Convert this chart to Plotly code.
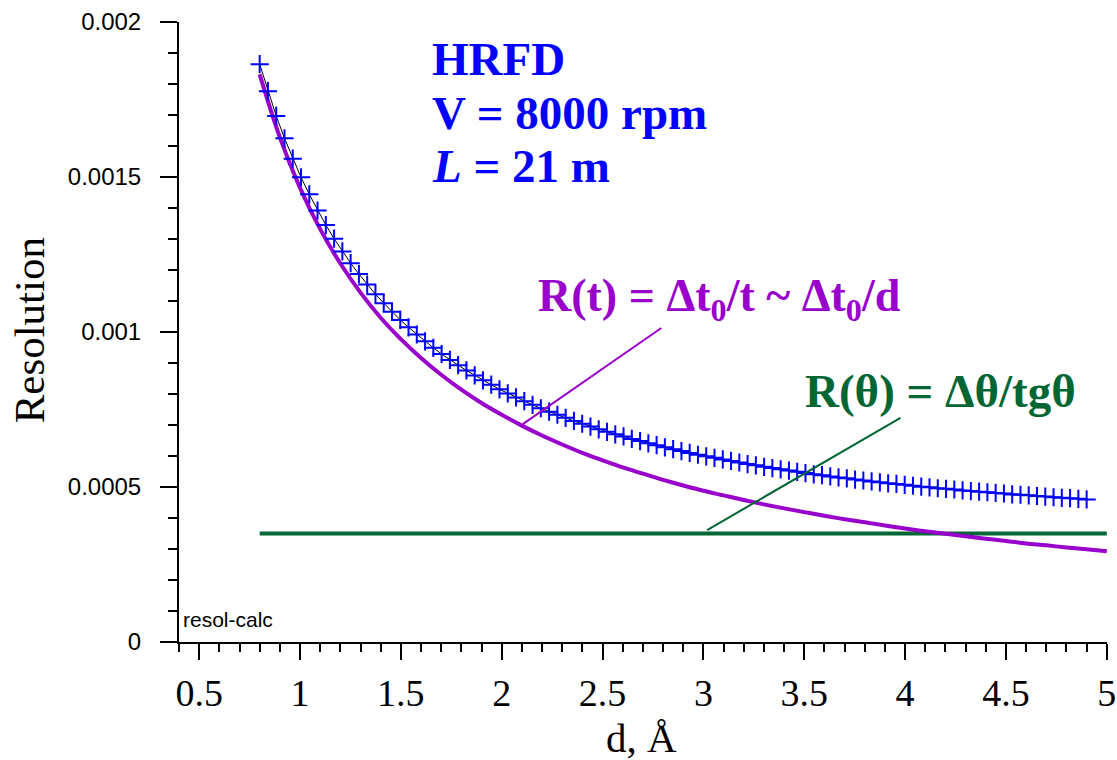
import plotly.graph_objects as go

# Calculated HRFD resolution vs d-spacing (V = 8000 rpm, L = 21 m)
d_total = [0.8, 0.841, 0.882, 0.923, 0.964, 1.005, 1.046, 1.087, 1.128, 1.169,
           1.21, 1.251, 1.292, 1.333, 1.374, 1.415, 1.456, 1.497, 1.538, 1.579,
           1.62, 1.661, 1.702, 1.743, 1.784, 1.825, 1.866, 1.907, 1.948, 1.989,
           2.03, 2.071, 2.112, 2.153, 2.194, 2.235, 2.276, 2.317, 2.358, 2.399,
           2.44, 2.481, 2.522, 2.563, 2.604, 2.645, 2.686, 2.727, 2.768, 2.809,
           2.85, 2.891, 2.932, 2.973, 3.014, 3.055, 3.096, 3.137, 3.178, 3.219,
           3.26, 3.301, 3.342, 3.383, 3.424, 3.465, 3.506, 3.547, 3.588, 3.629,
           3.67, 3.711, 3.752, 3.793, 3.834, 3.875, 3.916, 3.957, 3.998, 4.039,
           4.08, 4.121, 4.162, 4.203, 4.244, 4.285, 4.326, 4.367, 4.408, 4.449,
           4.49, 4.531, 4.572, 4.613, 4.654, 4.695, 4.736, 4.777, 4.818, 4.859,
           4.9]
r_total = [18.64, 17.77, 16.97, 16.25, 15.59, 14.99, 14.44, 13.92, 13.45, 13.01,
           12.60, 12.22, 11.87, 11.53, 11.22, 10.93, 10.65, 10.39, 10.15, 9.92,
           9.70, 9.49, 9.29, 9.10, 8.93, 8.76, 8.60, 8.44, 8.30, 8.15,
           8.02, 7.89, 7.77, 7.65, 7.54, 7.43, 7.33, 7.23, 7.13, 7.04,
           6.95, 6.86, 6.78, 6.70, 6.63, 6.55, 6.48, 6.41, 6.35, 6.28,
           6.22, 6.16, 6.10, 6.04, 5.99, 5.94, 5.89, 5.84, 5.79, 5.74,
           5.70, 5.65, 5.61, 5.57, 5.53, 5.49, 5.45, 5.41, 5.38, 5.34,
           5.31, 5.28, 5.24, 5.21, 5.18, 5.15, 5.12, 5.10, 5.07, 5.04,
           5.01, 4.99, 4.96, 4.94, 4.92, 4.89, 4.87, 4.85, 4.83, 4.81,
           4.79, 4.76, 4.75, 4.73, 4.71, 4.69, 4.67, 4.65, 4.64, 4.62,
           4.60]  # units of 1e-4

# Time-of-flight contribution R(t)
d_time = [0.8, 0.9, 1.0, 1.1, 1.2, 1.3, 1.4, 1.5, 1.6, 1.7, 1.8, 1.9, 2.0,
          2.1, 2.2, 2.3, 2.4, 2.5, 2.6, 2.7, 2.8, 2.9, 3.0, 3.1, 3.2, 3.3,
          3.4, 3.5, 3.6, 3.7, 3.8, 3.9, 4.0, 4.1, 4.2, 4.3, 4.4, 4.5, 4.6,
          4.7, 4.8, 4.9, 5.0]
r_time = [18.31, 16.28, 14.65, 13.32, 12.21, 11.27, 10.46, 9.77, 9.16, 8.62,
          8.14, 7.71, 7.33, 6.98, 6.66, 6.37, 6.10, 5.86, 5.63, 5.43, 5.23,
          5.05, 4.88, 4.73, 4.58, 4.44, 4.31, 4.19, 4.07, 3.96, 3.86, 3.76,
          3.66, 3.57, 3.49, 3.41, 3.33, 3.26, 3.18, 3.12, 3.05, 2.99, 2.93]  # 1e-4

# Angular contribution R(theta), constant over d
d_angle = [0.8, 5.0]
r_angle = [3.5, 3.5]  # units of 1e-4

x_tick_vals = [0.5, 1, 1.5, 2, 2.5, 3, 3.5, 4, 4.5, 5]
x_tick_text = ["0.5", "1", "1.5", "2", "2.5", "3", "3.5", "4", "4.5", "5"]
y_tick_vals = [0, 0.0005, 0.001, 0.0015, 0.002]
y_tick_text = ["0", "0.0005", "0.001", "0.0015", "0.002"]

SCALE = 1e-4
PURPLE = "rgb(153,0,204)"
GREEN = "rgb(0,102,51)"
BLUE = "rgb(0,0,255)"
SERIF = "Liberation Serif, Times New Roman, serif"
SANS = "Liberation Sans, Arial, sans-serif"

fig = go.Figure()

fig.add_trace(go.Scatter(
    x=d_angle, y=[v * SCALE for v in r_angle], mode="lines",
    line=dict(color=GREEN, width=4), showlegend=False))

fig.add_trace(go.Scatter(
    x=d_time, y=[v * SCALE for v in r_time], mode="lines",
    line=dict(color=PURPLE, width=4, shape="spline"), showlegend=False))

fig.add_trace(go.Scatter(
    x=d_total, y=[v * SCALE for v in r_total], mode="lines",
    line=dict(color="black", width=1), showlegend=False))

fig.add_trace(go.Scatter(
    x=d_total, y=[v * SCALE for v in r_total], mode="markers",
    marker=dict(symbol="cross-thin", size=13, color=BLUE,
                line=dict(color=BLUE, width=2)),
    showlegend=False))

# leader lines from the labels to the curves
fig.add_shape(type="line", x0=2.1045, y0=0.000703, x1=2.7913, y1=0.001013,
              line=dict(color=PURPLE, width=2))
fig.add_shape(type="line", x0=3.0186, y0=0.000361, x1=3.977, y1=0.000723,
              line=dict(color=GREEN, width=2))

ann = []
hrfd = ["<b>HRFD</b>", "<b>V = 8000 rpm</b>", "<b><i>L</i> = 21 m</b>"]
for txt, yy in zip(hrfd, [0.0018806, 0.0017065, 0.0015355]):
    ann.append(dict(x=1.645, y=yy, xref="x", yref="y", text=txt, showarrow=False,
                    xanchor="left", yanchor="middle",
                    font=dict(family=SERIF, size=47, color=BLUE)))
ann.append(dict(x=2.168, y=0.0011065, xref="x", yref="y",
                text="<b>R(t) = \u0394t<sub>0</sub>/t ~ \u0394t<sub>0</sub>/d</b>",
                showarrow=False, xanchor="left", yanchor="middle",
                font=dict(family=SERIF, size=46, color=PURPLE)))
ann.append(dict(x=3.495, y=0.00080968, xref="x", yref="y",
                text="<b>R(\u03b8) = \u0394\u03b8/tg\u03b8</b>",
                showarrow=False, xanchor="left", yanchor="middle",
                font=dict(family=SERIF, size=47, color=GREEN)))
ann.append(dict(x=0.0022, y=0.036, xref="paper", yref="paper",
                text="resol-calc", showarrow=False, xanchor="left",
                yanchor="middle", font=dict(family=SANS, size=21, color="black")))
ann.append(dict(x=-0.1613, y=0.5032, xref="paper", yref="paper",
                text="Resolution", textangle=-90, showarrow=False,
                xanchor="center", yanchor="middle",
                font=dict(family=SERIF, size=43, color="black")))
ann.append(dict(x=0.4989, y=-0.1548, xref="paper", yref="paper",
                text="d, \u00c5", showarrow=False,
                xanchor="center", yanchor="middle",
                font=dict(family=SERIF, size=41, color="black")))

fig.update_layout(
    width=1117, height=760,
    margin=dict(l=179, r=10, t=22, b=118, autoexpand=False),
    paper_bgcolor="white", plot_bgcolor="white",
    annotations=ann,
    xaxis=dict(
        range=[0.4, 5.001], tickmode="array", tickvals=x_tick_vals, ticktext=x_tick_text,
        ticks="outside", ticklen=16, tickwidth=2, tickcolor="black",
        showline=True, linewidth=2, linecolor="black", automargin=False,
        showgrid=False, zeroline=False, ticklabelstandoff=0,
        ticklabeloverflow="allow",
        tickfont=dict(family=SERIF, size=38, color="black"),
        minor=dict(tickmode="linear", tick0=0.4, dtick=0.1, ticks="outside",
                   ticklen=8, tickwidth=2, tickcolor="black", showgrid=False)),
    yaxis=dict(
        range=[0, 0.002], tickmode="array", tickvals=y_tick_vals, ticktext=y_tick_text,
        ticks="outside", ticklen=17, tickwidth=2, tickcolor="black",
        showline=True, linewidth=2, linecolor="black", automargin=False,
        showgrid=False, zeroline=False, ticklabelstandoff=14,
        ticklabeloverflow="allow",
        tickfont=dict(family=SANS, size=24, color="black"),
        minor=dict(tickmode="linear", tick0=0, dtick=0.0001, ticks="outside",
                   ticklen=9, tickwidth=2, tickcolor="black", showgrid=False)),
)

fig.write_html("out.html")
